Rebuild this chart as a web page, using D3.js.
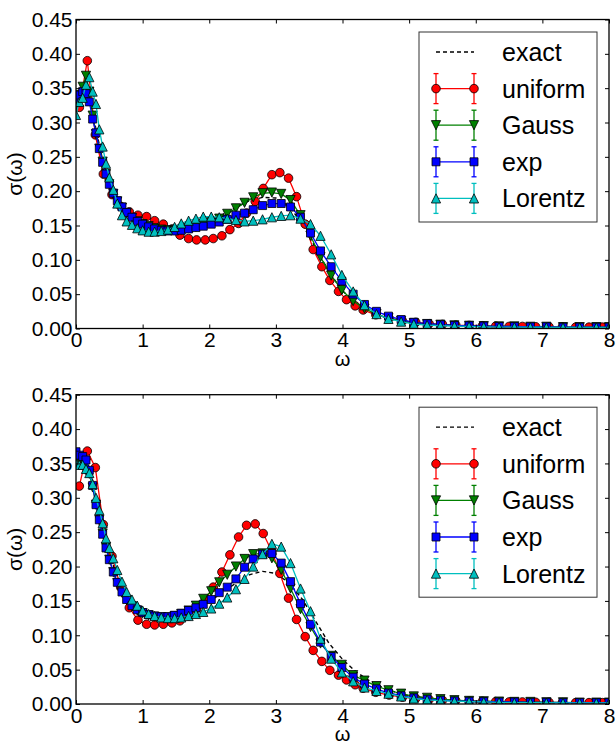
<!DOCTYPE html>
<html>
<head>
<meta charset="utf-8">
<script src="https://cdn.jsdelivr.net/npm/d3@7"></script>
<style>
body { margin: 0; background: #fff; }
text { font-family: "Liberation Sans", Arial, sans-serif; fill: #000; }
</style>
</head>
<body>
<div id="chart"></div>
<script>
var width = 616;
var height = 744;
var svg;

// frequency grids
var omegaE = [0,0.1,0.2,0.3,0.4,0.5,0.6,0.7,0.8,0.9,1.0,1.2,1.4,1.6,1.8,2.0,2.2,2.4,2.6,2.8,3.0,3.2,3.4,3.6,3.8,4.0,4.2,4.4,4.6,4.8,5.0,5.5,6.0,6.5,7.0,7.5,8.0];
var omegaU = [0.05,0.17,0.29,0.41,0.54,0.67,0.8,0.93,1.06,1.18,1.31,1.44,1.56,1.69,1.81,1.94,2.06,2.19,2.31,2.44,2.56,2.69,2.81,2.94,3.06,3.19,3.31,3.44,3.56,3.69,3.81,3.94,4.06,4.19,4.31,4.5,4.7,4.9,5.1,5.3,5.5,5.7,5.9,6.1,6.3,6.5,6.7,6.9,7.1,7.3,7.5,7.7,7.9];
var omegaG = [0,0.05,0.1,0.15,0.2,0.25,0.3,0.35,0.4,0.45,0.5,0.56,0.62,0.69,0.76,0.84,0.92,1.0,1.09,1.18,1.28,1.38,1.48,1.58,1.69,1.8,1.91,2.03,2.15,2.27,2.4,2.53,2.66,2.8,2.94,3.08,3.22,3.37,3.52,3.67,3.83,3.99,4.16,4.33,4.51,4.69,4.88,5.07,5.27,5.47,5.68,5.9,6.12,6.35,6.58,6.82,7.06,7.31,7.56,7.81,8.0];

// top panel
var topExact = [0.33,0.35,0.34,0.29,0.245,0.21,0.19,0.176,0.166,0.158,0.152,0.145,0.141,0.141,0.146,0.155,0.166,0.177,0.186,0.191,0.19,0.178,0.152,0.117,0.082,0.055,0.037,0.025,0.017,0.012,0.009,0.005,0.003,0.002,0.0015,0.001,0.001];
var topUniform = [0.322,0.39,0.282,0.225,0.195,0.178,0.17,0.165,0.163,0.157,0.152,0.145,0.136,0.131,0.129,0.129,0.131,0.135,0.144,0.153,0.168,0.185,0.204,0.224,0.227,0.219,0.192,0.152,0.115,0.09,0.07,0.054,0.042,0.033,0.027,0.02,0.015,0.011,0.009,0.007,0.006,0.005,0.0045,0.004,0.0035,0.003,0.003,0.0025,0.0025,0.002,0.002,0.002,0.002];
var topGauss = [0.325,0.34,0.352,0.368,0.345,0.31,0.283,0.262,0.243,0.225,0.21,0.196,0.185,0.176,0.168,0.161,0.156,0.152,0.149,0.146,0.144,0.143,0.143,0.144,0.146,0.148,0.151,0.155,0.16,0.167,0.175,0.183,0.191,0.197,0.198,0.196,0.187,0.165,0.135,0.104,0.077,0.056,0.04,0.029,0.021,0.015,0.011,0.008,0.0065,0.0055,0.0045,0.004,0.0035,0.003,0.003,0.0025,0.0025,0.002,0.002,0.002,0.002];
var topExp = [0.335,0.34,0.345,0.342,0.33,0.305,0.285,0.262,0.242,0.225,0.21,0.197,0.186,0.177,0.169,0.162,0.156,0.152,0.148,0.145,0.143,0.142,0.142,0.143,0.145,0.147,0.149,0.152,0.155,0.159,0.165,0.168,0.173,0.179,0.182,0.182,0.177,0.162,0.139,0.113,0.09,0.069,0.05,0.035,0.025,0.018,0.013,0.009,0.007,0.0055,0.0045,0.004,0.0035,0.003,0.003,0.0025,0.0025,0.002,0.002,0.002,0.002];
var topLorentz = [0.311,0.33,0.336,0.355,0.366,0.345,0.327,0.29,0.265,0.24,0.22,0.202,0.182,0.165,0.156,0.151,0.146,0.143,0.141,0.141,0.142,0.144,0.148,0.153,0.157,0.16,0.163,0.163,0.162,0.16,0.158,0.156,0.157,0.159,0.162,0.164,0.165,0.16,0.152,0.135,0.108,0.078,0.054,0.034,0.021,0.014,0.01,0.0065,0.005,0.004,0.0035,0.003,0.0025,0.002,0.002,0.0018,0.0016,0.0015,0.0015,0.0015,0.0015];

// bottom panel
var botExact = [0.36,0.358,0.345,0.3,0.255,0.22,0.19,0.168,0.152,0.141,0.134,0.127,0.126,0.13,0.138,0.149,0.162,0.176,0.188,0.193,0.19,0.176,0.152,0.12,0.088,0.065,0.047,0.034,0.024,0.017,0.012,0.006,0.003,0.002,0.0015,0.001,0.001];
var botUniform = [0.317,0.368,0.344,0.261,0.215,0.17,0.14,0.122,0.116,0.115,0.116,0.118,0.121,0.128,0.138,0.152,0.17,0.192,0.217,0.243,0.26,0.262,0.248,0.222,0.19,0.154,0.123,0.098,0.078,0.062,0.049,0.042,0.035,0.028,0.023,0.017,0.013,0.01,0.008,0.0065,0.0055,0.005,0.0045,0.004,0.0035,0.003,0.003,0.0025,0.0025,0.002,0.002,0.002,0.002];
var botGauss = [0.36,0.355,0.352,0.35,0.335,0.315,0.29,0.268,0.248,0.228,0.21,0.192,0.176,0.162,0.151,0.142,0.136,0.132,0.129,0.127,0.126,0.126,0.128,0.131,0.136,0.143,0.153,0.164,0.177,0.188,0.2,0.211,0.218,0.219,0.212,0.195,0.168,0.138,0.112,0.088,0.07,0.057,0.042,0.034,0.026,0.02,0.015,0.011,0.009,0.007,0.0055,0.0045,0.004,0.0035,0.003,0.003,0.0025,0.0025,0.002,0.002,0.002];
var botExp = [0.367,0.362,0.36,0.355,0.34,0.318,0.29,0.268,0.247,0.227,0.21,0.192,0.177,0.163,0.152,0.143,0.137,0.133,0.13,0.128,0.127,0.127,0.129,0.132,0.136,0.14,0.145,0.152,0.162,0.17,0.182,0.199,0.211,0.218,0.219,0.205,0.178,0.146,0.116,0.09,0.069,0.053,0.039,0.029,0.022,0.016,0.012,0.009,0.007,0.0055,0.0045,0.004,0.0035,0.003,0.003,0.0025,0.0025,0.002,0.002,0.002,0.002];
var botLorentz = [0.35,0.348,0.348,0.342,0.336,0.32,0.3,0.282,0.263,0.241,0.227,0.212,0.195,0.178,0.163,0.152,0.143,0.136,0.131,0.128,0.126,0.125,0.125,0.126,0.128,0.131,0.134,0.139,0.146,0.155,0.167,0.182,0.2,0.218,0.233,0.229,0.205,0.168,0.135,0.095,0.066,0.046,0.033,0.024,0.019,0.015,0.011,0.008,0.006,0.005,0.004,0.0035,0.003,0.0025,0.002,0.002,0.0018,0.0016,0.0015,0.0015,0.0015];

var seriesNames = ["exact", "uniform", "Gauss", "exp", "Lorentz"];
var seriesColors = ["#000000", "#ff0000", "#008000", "#0000ff", "#00bfbf"];
var seriesMarkers = [null, "circle", "tridown", "square", "triup"];
var xTicks = [0, 1, 2, 3, 4, 5, 6, 7, 8];
var yTicks = [0, 0.05, 0.10, 0.15, 0.20, 0.25, 0.30, 0.35, 0.40, 0.45];

var panels = [
    {top: 19.5, bottom: 328.5, grids: [omegaE, omegaU, omegaG, omegaG, omegaG],
     values: [topExact, topUniform, topGauss, topExp, topLorentz]},
    {top: 394.7, bottom: 704, grids: [omegaE, omegaU, omegaG, omegaG, omegaG],
     values: [botExact, botUniform, botGauss, botExp, botLorentz]}
];

var left = 76, right = 609;

function markerPath(kind){
    var h = 4.6;
    if(kind == "circle") return "M4.3,0A4.3,4.3 0 1,1 -4.3,0A4.3,4.3 0 1,1 4.3,0Z";
    if(kind == "square") return "M-4,-4L4,-4L4,4L-4,4Z";
    if(kind == "triup") return "M0,-" + h + "L" + h + "," + h + "L-" + h + "," + h + "Z";
    if(kind == "tridown") return "M0," + h + "L" + h + ",-" + h + "L-" + h + ",-" + h + "Z";
    return "";
}

function init(){
    svg = d3.select("#chart")
            .append("svg")
            .attr("width", width)
            .attr("height", height);
    svg.append("rect").attr("width", width).attr("height", height).attr("fill", "#fff");
}

function drawPanel(p, idx){
    var x = d3.scaleLinear().domain([0, 8]).range([left, right]);
    var y = d3.scaleLinear().domain([0, 0.45]).range([p.bottom, p.top]);
    var g = svg.append("g");

    var clipId = "clip" + idx;
    svg.append("clipPath").attr("id", clipId)
        .append("rect")
        .attr("x", left).attr("y", p.top)
        .attr("width", right - left).attr("height", p.bottom - p.top);

    var plot = g.append("g").attr("clip-path", "url(#" + clipId + ")");

    for(var i = 0; i < seriesNames.length; i++){
        var pts = p.grids[i].map(function(w, j){ return [w, p.values[i][j]]; });
        var line = d3.line()
            .x(function(d){ return x(d[0]); })
            .y(function(d){ return y(d[1]); });
        var path = plot.append("path")
            .datum(pts)
            .attr("d", line)
            .attr("fill", "none")
            .attr("stroke", seriesColors[i])
            .attr("stroke-width", i == 0 ? 1.4 : 1.3);
        if(i == 0) path.attr("stroke-dasharray", "4,3");

        if(seriesMarkers[i]){
            plot.selectAll(".m" + i)
                .data(pts)
                .enter().append("path")
                .attr("class", "m" + i)
                .attr("transform", function(d){ return "translate(" + x(d[0]) + "," + y(d[1]) + ")"; })
                .attr("d", markerPath(seriesMarkers[i]))
                .attr("fill", seriesColors[i])
                .attr("stroke", "#000")
                .attr("stroke-width", 0.8);
        }
    }

    // axes, ticks inside on all four sides
    var xb = g.append("g").attr("transform", "translate(0," + p.bottom + ")")
        .call(d3.axisBottom(x).tickValues(xTicks).tickSize(-4).tickSizeOuter(0).tickPadding(4).tickFormat(d3.format("d")));
    var xt = g.append("g").attr("transform", "translate(0," + p.top + ")")
        .call(d3.axisTop(x).tickValues(xTicks).tickSize(-4).tickSizeOuter(0).tickFormat(""));
    var yl = g.append("g").attr("transform", "translate(" + left + ",0)")
        .call(d3.axisLeft(y).tickValues(yTicks).tickSize(-4).tickSizeOuter(0).tickPadding(3.5).tickFormat(d3.format(".2f")));
    var yr = g.append("g").attr("transform", "translate(" + right + ",0)")
        .call(d3.axisRight(y).tickValues(yTicks).tickSize(-4).tickSizeOuter(0).tickFormat(""));

    [xb, xt, yl, yr].forEach(function(a){
        a.select(".domain").remove();
        a.selectAll("line").attr("stroke", "#000").attr("stroke-width", 1);
        a.selectAll("text")
            .style("font-family", "'Liberation Sans', Arial, sans-serif")
            .style("font-size", "21px")
            .attr("fill", "#000");
    });

    g.append("rect")
        .attr("x", left).attr("y", p.top)
        .attr("width", right - left).attr("height", p.bottom - p.top)
        .attr("fill", "none").attr("stroke", "#000").attr("stroke-width", 1.3);

    g.append("text")
        .attr("x", (left + right) / 2)
        .attr("y", p.bottom + 37)
        .attr("text-anchor", "middle")
        .style("font-size", "20px")
        .text("ω");

    g.append("text")
        .attr("transform", "translate(22," + (p.top + p.bottom) / 2 + ") rotate(-90)")
        .attr("text-anchor", "middle")
        .style("font-size", "21px")
        .text("σ(ω)");

    drawLegend(g, p.top);
}

function drawLegend(g, top){
    var bx = 419, by = top + 12.5, bw = 178, bh = 190;
    var lg = g.append("g");
    lg.append("rect")
        .attr("x", bx).attr("y", by)
        .attr("width", bw).attr("height", bh)
        .attr("fill", "#fff").attr("stroke", "#333").attr("stroke-width", 1);

    seriesNames.forEach(function(name, i){
        var cy = by + 20 + i * 36.6;
        var x1 = 436, x2 = 474;
        var ln = lg.append("line")
            .attr("x1", x1).attr("x2", x2)
            .attr("y1", cy).attr("y2", cy)
            .attr("stroke", seriesColors[i])
            .attr("stroke-width", 1.3);
        if(i == 0){
            ln.attr("stroke-dasharray", "4,3");
        } else {
            [x1, x2].forEach(function(mx){
                lg.append("line")
                    .attr("x1", mx).attr("x2", mx)
                    .attr("y1", cy - 15).attr("y2", cy + 15)
                    .attr("stroke", seriesColors[i]).attr("stroke-width", 1.3);
                [cy - 15, cy + 15].forEach(function(cyy){
                    lg.append("line")
                        .attr("x1", mx - 2.5).attr("x2", mx + 2.5)
                        .attr("y1", cyy).attr("y2", cyy)
                        .attr("stroke", seriesColors[i]).attr("stroke-width", 1.3);
                });
                lg.append("path")
                    .attr("transform", "translate(" + mx + "," + cy + ")")
                    .attr("d", markerPath(seriesMarkers[i]))
                    .attr("fill", seriesColors[i])
                    .attr("stroke", "#000")
                    .attr("stroke-width", 0.8);
            });
        }
        lg.append("text")
            .attr("x", 502)
            .attr("y", cy + 9)
            .style("font-size", "25px")
            .text(name);
    });
}

init();
panels.forEach(drawPanel);
</script>
</body>
</html>
